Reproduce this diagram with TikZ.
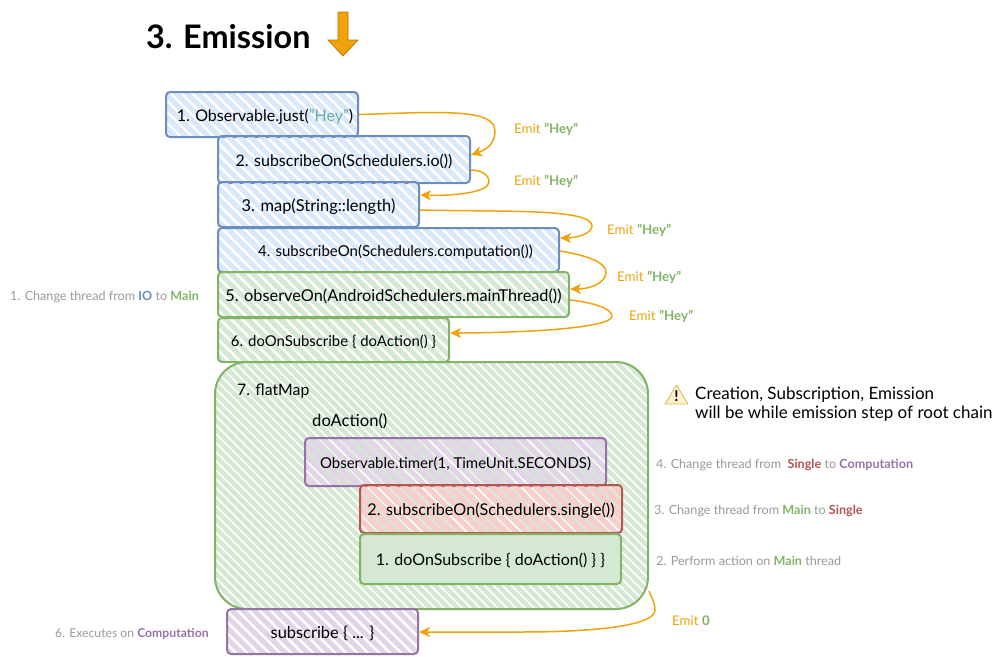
\documentclass[tikz,border=0pt]{standalone}
\usepackage{fontspec}
\setmainfont{Lato}
\usetikzlibrary{arrows.meta}

\definecolor{blueline}{HTML}{6C8EBF}
\definecolor{bluefill}{HTML}{DAE8FC}
\definecolor{greenline}{HTML}{82B366}
\definecolor{greenfill}{HTML}{D5E8D4}
\definecolor{purpleline}{HTML}{9673A6}
\definecolor{purplefill}{HTML}{E1D5E7}
\definecolor{redline}{HTML}{B85450}
\definecolor{redfill}{HTML}{F8CECC}
\definecolor{emitline}{HTML}{F0A30A}
\definecolor{emitdark}{HTML}{BD7000}
\definecolor{heyteal}{HTML}{67AB9F}
\definecolor{notegrey}{HTML}{999999}
\definecolor{warnfill}{HTML}{FFF2CC}
\definecolor{warnline}{HTML}{D6B656}

\newcommand{\hey}{\textcolor{greenline}{\textbf{"Hey"}}}
\newcommand{\thr}[2]{\textcolor{#1}{\textbf{#2}}}

\tikzset{
	hatch/.style n args={3}{path picture={
		\foreach \k in {-80,...,80}
			\draw[#1,line width=#3] ({\k*#2-300},-300) -- ({\k*#2+300},300);
	}},
	chainbox/.style n args={3}{draw=#1,line width=2pt,rounded corners=4pt,inner sep=0pt,
		minimum width=#2,minimum height=#3,text height=13pt,text depth=0pt,
		font=\fontsize{16}{18}\selectfont},
	bluebox/.style 2 args={chainbox={blueline}{#1}{#2},hatch={bluefill}{11}{5pt}},
	greenbox/.style 2 args={chainbox={greenline}{#1}{#2},hatch={greenfill}{11}{5pt}},
	purplebox/.style 2 args={chainbox={purpleline}{#1}{#2},hatch={purplefill}{11}{5pt}},
	redbox/.style 2 args={chainbox={redline}{#1}{#2},hatch={redfill}{11}{5.5pt}},
	emit/.style={draw=emitline,line width=1.5pt,-{Stealth[length=11pt,width=10pt,inset=3pt]}},
	emitlabel/.style={anchor=west,inner sep=0pt,text=emitline,font=\fontsize{13.3}{15}\selectfont},
	note/.style={anchor=west,inner sep=0pt,text=notegrey,font=\fontsize{12.6}{14}\selectfont},
	plain/.style={anchor=west,inner sep=0pt,font=\fontsize{16}{18}\selectfont},
}

\begin{document}
\begin{tikzpicture}[x=1pt,y=-1pt]
	\useasboundingbox (0,0) rectangle (1004,656);

	\node[anchor=west,inner sep=0pt,font=\fontsize{32.4}{36}\selectfont\bfseries] (title) at (146,37) {3. Emission};
	\draw[fill=emitline,draw=emitdark,line width=0.7pt] (338,12) -- (348,12) -- (348,40) -- (358,40) -- (343,56) -- (328,40) -- (338,40) -- cycle;

	% root chain
	\node[bluebox={192pt}{45pt}] (just) at (262,114.5) {\hspace{6pt}1. Observable.just(\textcolor{heyteal}{"Hey"})};
	\node[bluebox={252pt}{47pt}] (subio) at (344,159.5) {2. subscribeOn(Schedulers.io())\hspace{3pt}};
	\node[bluebox={201pt}{45pt},font=\fontsize{16.4}{18}\selectfont] (map) at (318.5,204.5) {3. map(String::length)};
	\node[bluebox={341pt}{44pt},font=\fontsize{15}{18}\selectfont] (subcomp) at (388.5,250) {\hspace{14pt}4. subscribeOn(Schedulers.computation())};
	\node[greenbox={351pt}{45pt},font=\fontsize{16.3}{18}\selectfont] (obs) at (393.5,294.5) {5. observeOn(AndroidSchedulers.mainThread())};
	\node[greenbox={231pt}{44pt},font=\fontsize{14.9}{18}\selectfont] (dosub) at (333.5,340) {6. doOnSubscribe \{ doAction() \}};

	% inner chain
	\node[chainbox={greenline}{433pt}{247pt},rounded corners=32pt,hatch={greenfill}{9}{4.4pt}] (flat) at (431.5,485.5) {};
	\node[plain,font=\fontsize{15.8}{18}\selectfont] (flatname) at (237,391) {7. flatMap};
	\node[plain,font=\fontsize{16.6}{18}\selectfont] (actname) at (312,421) {doAction()};
	\node[purplebox={301pt}{48pt},font=\fontsize{15}{17}\selectfont] (timer) at (455.5,462) {Observable.timer(1, TimeUnit.SECONDS)};
	\node[redbox={262pt}{48pt},font=\fontsize{16.2}{18}\selectfont] (single) at (491,509) {2. subscribeOn(Schedulers.single())};
	\node[chainbox={greenline}{261pt}{50pt},fill=greenfill] (doinner) at (490.5,559) {1. doOnSubscribe \{ doAction() \} \}};
	\node[purplebox={191pt}{45pt},font=\fontsize{16.4}{18}\selectfont] (subs) at (322.5,631.5) {subscribe \{ ... \}};

	% emissions
	\draw[emit] (just.east) .. controls (440,112) and (495,108) .. (495,131) .. controls (495,145) and (485,150) .. (subio.east |- 0,155);
	\draw[emit] (subio.east |- 0,170) .. controls (480,170) and (489,174) .. (489,182) .. controls (489,193) and (450,196) .. (map.east |- 0,195);
	\draw[emit] (map.east |- 0,210) .. controls (500,212) and (592,208) .. (592,226) .. controls (592,234) and (575,238) .. (subcomp.east |- 0,238);
	\draw[emit] (subcomp.east |- 0,251) .. controls (585,255) and (606,262) .. (606,272) .. controls (606,283) and (590,289) .. (obs.east |- 0,289);
	\draw[emit] (obs.east |- 0,300) .. controls (590,302) and (612,308) .. (612,316) .. controls (612,330) and (500,333) .. (dosub.east |- 0,333);
	\draw[emit] (flat.east |- 0,591) .. controls (650,595) and (655,602) .. (655,610) .. controls (655,625) and (600,632) .. (520,632) -- (subs.east |- 0,632);

	\node[emitlabel] (emita) at (514,129) {Emit \hey};
	\node[emitlabel] (emitb) at (514,181) {Emit \hey};
	\node[emitlabel] (emitc) at (607,230) {Emit \hey};
	\node[emitlabel] (emitd) at (617,277) {Emit \hey};
	\node[emitlabel] (emite) at (629,316) {Emit \hey};
	\node[emitlabel] (emitf) at (672,621) {Emit \thr{greenline}{0}};

	% thread notes
	\node[note] (notea) at (10,297) {1. Change thread from \thr{blueline}{IO} to \thr{greenline}{Main}};
	\node[note] (noteb) at (656,561) {2. Perform action on \thr{greenline}{Main} thread};
	\node[note] (notec) at (654,511) {3. Change thread from \thr{greenline}{Main} to \thr{redline}{Single}};
	\node[note] (noted) at (656,465) {4. Change thread from\ \ \thr{redline}{Single} to \thr{purpleline}{Computation}};
	\node[note,font=\fontsize{12.2}{14}\selectfont] (notef) at (55,634) {6. Executes on \thr{purpleline}{Computation}};

	% warning
	\draw[fill=warnfill,draw=warnline,line width=0.8pt,line join=round] (665,404) -- (676.5,385) -- (688,404) -- cycle;
	\node[inner sep=0pt,font=\fontsize{15}{15}\selectfont\bfseries] (warnmark) at (676.5,396) {!};
	\node[plain,align=left,font=\fontsize{17}{19}\selectfont] (warntext) at (695,404.5) {Creation, Subscription, Emission\\will be while emission step of root chain};
\end{tikzpicture}
\end{document}
